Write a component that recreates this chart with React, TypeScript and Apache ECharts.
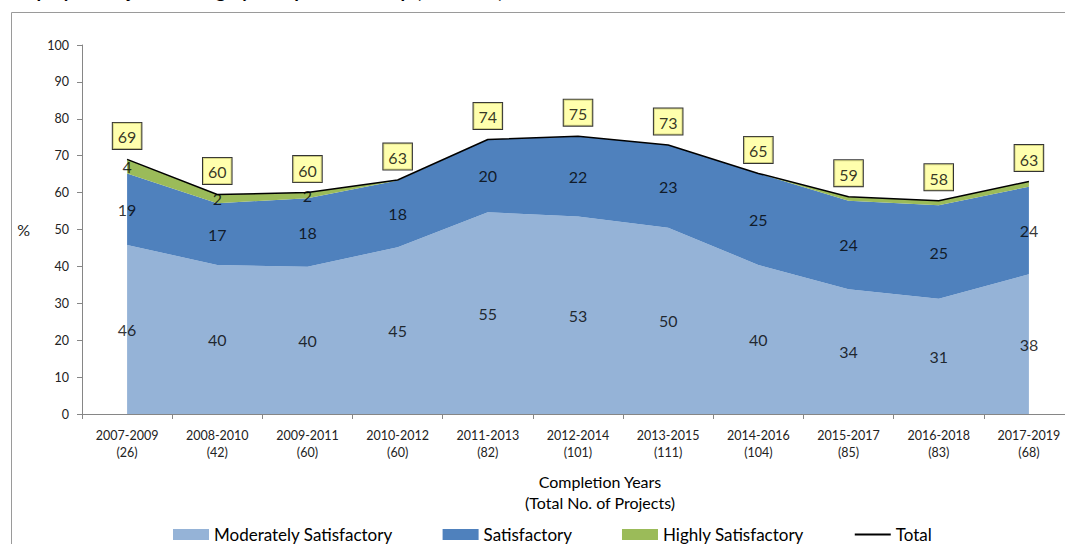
import React, { useEffect, useRef } from "react";
import * as echarts from "echarts";

const categories = ["2007-2009", "2008-2010", "2009-2011", "2010-2012", "2011-2013", "2012-2014", "2013-2015", "2014-2016", "2015-2017", "2016-2018", "2017-2019"];
const projectCounts = [26, 42, 60, 60, 82, 101, 111, 104, 85, 83, 68];

const moderatelySatisfactory = [45.8, 40.4, 39.9, 45.2, 54.7, 53.5, 50.5, 40.4, 33.8, 31.2, 37.9];
const satisfactory = [19.4, 16.7, 18.6, 18.1, 19.7, 21.8, 22.4, 24.8, 24.0, 25.4, 23.7];
const highlySatisfactory = [3.8, 2.4, 1.5, 0.1, 0, 0, 0, 0, 1.1, 1.2, 1.4];
const total = [69.0, 59.5, 60.0, 63.4, 74.4, 75.3, 72.9, 65.2, 58.9, 57.8, 63.0];

const msLabels = ["46", "40", "40", "45", "55", "53", "50", "40", "34", "31", "38"];
const sLabels = ["19", "17", "18", "18", "20", "22", "23", "25", "24", "25", "24"];
const hsLabels = ["4", "2", "2", "", "", "", "", "", "", "", ""];
const totalLabels = ["69", "60", "60", "63", "74", "75", "73", "65", "59", "58", "63"];

const yTicks = { min: 0, max: 100, interval: 10 };

const FONT = "Lato, 'Noto Sans', sans-serif";

export default function App() {
  const ref = useRef<HTMLDivElement>(null);
  useEffect(() => {
    if (!ref.current) return;
    const chart = echarts.init(ref.current, null, { renderer: "svg" });
    const xLabels = categories.map((c, i) => `${c}\n(${projectCounts[i]})`);
    const msMid = moderatelySatisfactory.map((v) => v / 2);
    const sMid = satisfactory.map((v, i) => moderatelySatisfactory[i] + v / 2);
    const hsMid = highlySatisfactory.map((v, i) =>
      hsLabels[i] ? moderatelySatisfactory[i] + satisfactory[i] + v / 2 : null
    );
    const labelScatter = (name: string, data: (number | null)[], labels: string[], extra: any = {}) => ({
      name,
      type: "scatter",
      data,
      symbolSize: 1,
      itemStyle: { color: "rgba(0,0,0,0)" },
      silent: true,
      z: 10,
      label: {
        show: true,
        position: "inside",
        formatter: (p: any) => labels[p.dataIndex],
        color: "#000",
        fontSize: 16,
        fontFamily: FONT,
        ...extra,
      },
    });
    chart.setOption({
      animation: false,
      textStyle: { fontFamily: FONT },
      graphic: [
        {
          type: "text",
          left: 12,
          top: -19,
          style: {
            text: "Deployed Projects Rating by Completion Group (2007–19)",
            fontSize: 19,
            fontWeight: "bold",
            fontFamily: FONT,
            fill: "#000",
          },
        },
        {
          type: "rect",
          shape: { x: 11.5, y: 12.5, width: 1060, height: 600 },
          style: { fill: "none", stroke: "#9a9a9a", lineWidth: 1 },
          silent: true,
          z: -1,
        },
      ],
      grid: { left: 82, top: 45, width: 992, height: 369 },
      legend: {
        top: 521,
        left: 168,
        itemWidth: 36,
        itemHeight: 11,
        itemGap: 50,
        textStyle: { fontSize: 17, color: "#000", fontFamily: FONT },
        data: [
          { name: "Moderately Satisfactory", icon: "rect" },
          { name: "Satisfactory", icon: "rect" },
          { name: "Highly Satisfactory", icon: "rect" },
          { name: "Total", itemStyle: { opacity: 0 } },
        ],
      },
      xAxis: {
        type: "category",
        data: xLabels,
        boundaryGap: true,
        name: "Completion Years\n(Total No. of Projects)",
        nameLocation: "middle",
        nameGap: 57,
        nameTextStyle: { fontSize: 16, color: "#000", lineHeight: 21, padding: [0, 0, 0, 44], fontFamily: FONT },
        axisLine: { lineStyle: { color: "#868686" } },
        axisTick: { show: true, length: 5, lineStyle: { color: "#868686" } },
        axisLabel: { fontSize: 12.5, color: "#222", lineHeight: 17, margin: 13, interval: 0, fontFamily: FONT },
      },
      yAxis: {
        type: "value",
        min: yTicks.min,
        max: yTicks.max,
        interval: yTicks.interval,
        name: "%",
        nameLocation: "middle",
        nameRotate: 0,
        nameGap: 52,
        nameTextStyle: { fontSize: 16, color: "#222", fontFamily: FONT },
        axisLine: { show: true, lineStyle: { color: "#868686" } },
        axisTick: { show: true, length: 5, lineStyle: { color: "#868686" } },
        splitLine: { show: false },
        axisLabel: { fontSize: 12.5, color: "#222", margin: 13, fontFamily: FONT },
      },
      series: [
        {
          name: "Moderately Satisfactory",
          type: "line",
          stack: "r",
          data: moderatelySatisfactory,
          symbol: "none",
          lineStyle: { width: 0 },
          itemStyle: { color: "#95B3D7" },
          areaStyle: { color: "#95B3D7", opacity: 1 },
        },
        {
          name: "Satisfactory",
          type: "line",
          stack: "r",
          data: satisfactory,
          symbol: "none",
          lineStyle: { width: 0 },
          itemStyle: { color: "#4F81BD" },
          areaStyle: { color: "#4F81BD", opacity: 1 },
        },
        {
          name: "Highly Satisfactory",
          type: "line",
          stack: "r",
          data: highlySatisfactory,
          symbol: "none",
          lineStyle: { width: 0 },
          itemStyle: { color: "#9BBB59" },
          areaStyle: { color: "#9BBB59", opacity: 1 },
        },
        {
          name: "Total",
          type: "line",
          data: total,
          symbol: "none",
          z: 5,
          itemStyle: { color: "#000" },
          lineStyle: { color: "#000", width: 1.5 },
        },
        labelScatter("msLabels", msMid, msLabels),
        labelScatter("sLabels", sMid, sLabels),
        labelScatter("hsLabels", hsMid, hsLabels),
        labelScatter("totalLabels", total, totalLabels, {
          position: "top",
          distance: 10,
          backgroundColor: "#FFFF99",
          borderColor: "#000",
          borderWidth: 1,
          padding: [6, 5, 4, 5],
        }),
      ],
    });
    return () => chart.dispose();
  }, []);
  return (
    <div style={{ position: "absolute", left: 0, top: 0, width: 1065, height: 544, overflow: "hidden", background: "#fff" }}>
      <div ref={ref} style={{ width: 1090, height: 544 }} />
    </div>
  );
}
